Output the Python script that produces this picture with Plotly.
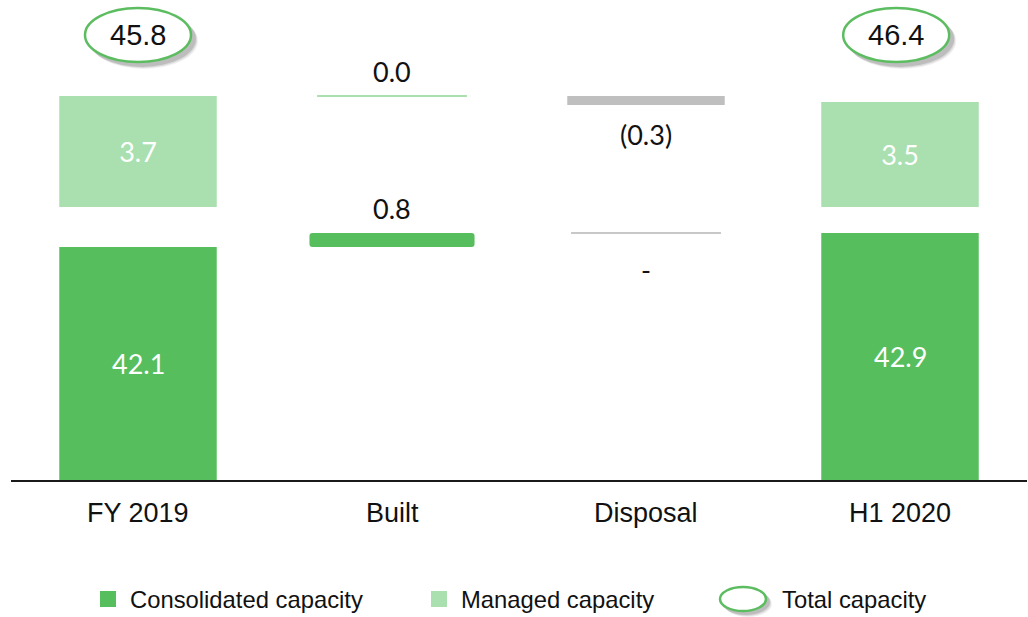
import plotly.graph_objects as go

# ---- data -------------------------------------------------------------
categories = ["FY 2019", "Built", "Disposal", "H1 2020"]
kinds = ["total", "step", "step", "total"]
consolidated = [42.1, 0.8, None, 42.9]      # None = no movement reported
managed = [3.7, 0.0, -0.3, 3.5]
totals = [45.8, None, None, 46.4]
legend_labels = ["Consolidated capacity", "Managed capacity", "Total capacity"]

# ---- style ------------------------------------------------------------
GREEN = "#57BE5E"
LIGHT = "#AADFB0"
GREY_BAR = "#BFBFBF"
GREY_LINE = "#C8C8C8"
RING = "#5CBD60"
NUM_FONT = "Lato, Open Sans, sans-serif"
ARIAL = "Liberation Sans, Arial, sans-serif"
BAR_W = 0.62

W, H = 1028, 617
M_L, M_R, M_T, M_B = 11, 1, 0, 137
PW, PH = W - M_L - M_R, H - M_T - M_B


def paper_x(px):
    return (px - M_L) / PW


def paper_y(py):
    return (M_T + PH - py) / PH


def fmt(v):
    if v is None:
        return "-"
    return f"({abs(v):.1f})" if v < 0 else f"{v:.1f}"


# broken value axis: consolidated segment below, managed segment above
SPLIT = paper_y(207)
Y1_RANGE = [28.786, 44.386]
Y2_RANGE = [0, 6.9]

xs = list(range(len(categories)))

# running levels for the waterfall steps
cons_base, man_base = [], []
c_level, m_level = 0.0, 0.0
for k, c, m in zip(kinds, consolidated, managed):
    if k == "total":
        cons_base.append(0.0)
        man_base.append(0.0)
        c_level, m_level = c, m
    else:
        cons_base.append(c_level)
        man_base.append(m_level)
        c_level += c or 0.0
        m_level += m

fig = go.Figure()

tot_idx = [i for i, k in enumerate(kinds) if k == "total"]
step_idx = [i for i, k in enumerate(kinds) if k == "step"]

# totals: consolidated (lower segment) and managed (upper segment)
fig.add_trace(go.Bar(
    x=[xs[i] for i in tot_idx], y=[consolidated[i] for i in tot_idx],
    width=BAR_W, marker=dict(color=GREEN, line=dict(width=0)),
    yaxis="y", hoverinfo="skip", showlegend=False))
fig.add_trace(go.Bar(
    x=[xs[i] for i in tot_idx], y=[managed[i] for i in tot_idx],
    width=BAR_W, marker=dict(color=LIGHT, line=dict(width=0)),
    text=[fmt(managed[i]) for i in tot_idx], textposition="inside",
    insidetextanchor="middle", constraintext="none", textangle=0,
    textfont=dict(family=NUM_FONT, size=27, color="white"),
    yaxis="y2", hoverinfo="skip", showlegend=False))

annotations = []
half = BAR_W / 2 - 0.015

# consolidated total labels sit in the middle of the visible part of the bar
for i in tot_idx:
    lo = max(Y1_RANGE[0], 0.0)
    annotations.append(dict(x=xs[i], y=(lo + consolidated[i]) / 2, xref="x", yref="y",
                            text=fmt(consolidated[i]), showarrow=False,
                            xanchor="center", yanchor="middle",
                            font=dict(family=NUM_FONT, size=27, color="white")))

for i in step_idx:
    c, m = consolidated[i], managed[i]
    # consolidated movement
    if c:
        fig.add_trace(go.Bar(
            x=[xs[i]], y=[c], base=[cons_base[i]], width=BAR_W + 0.03,
            marker=dict(color=GREEN if c > 0 else GREY_BAR, cornerradius=3, line=dict(width=0)),
            yaxis="y", hoverinfo="skip", showlegend=False))
        annotations.append(dict(x=xs[i], y=max(cons_base[i], cons_base[i] + c), xref="x", yref="y",
                                text=fmt(c), showarrow=False, yanchor="bottom", yshift=6,
                                font=dict(family=NUM_FONT, size=27, color="#111")))
    else:
        fig.add_trace(go.Scatter(
            x=[xs[i] - half, xs[i] + half], y=[cons_base[i]] * 2, mode="lines",
            line=dict(color=GREY_LINE, width=2), yaxis="y", hoverinfo="skip", showlegend=False))
        annotations.append(dict(x=xs[i], y=cons_base[i], xref="x", yref="y",
                                text=fmt(c), showarrow=False, yanchor="top", yshift=-18,
                                font=dict(family=NUM_FONT, size=27, color="#111")))
    # managed movement
    if m:
        fig.add_trace(go.Bar(
            x=[xs[i]], y=[m], base=[man_base[i]], width=BAR_W,
            marker=dict(color=GREY_BAR if m < 0 else LIGHT, line=dict(width=0)),
            yaxis="y2", hoverinfo="skip", showlegend=False))
        if m < 0:
            annotations.append(dict(x=xs[i], y=man_base[i] + m, xref="x", yref="y2",
                                    text=fmt(m), showarrow=False, yanchor="top", yshift=-11,
                                    font=dict(family=NUM_FONT, size=27, color="#111")))
        else:
            annotations.append(dict(x=xs[i], y=man_base[i] + m, xref="x", yref="y2",
                                    text=fmt(m), showarrow=False, yanchor="bottom", yshift=6,
                                    font=dict(family=NUM_FONT, size=27, color="#111")))
    else:
        fig.add_trace(go.Scatter(
            x=[xs[i] - half, xs[i] + half], y=[man_base[i]] * 2, mode="lines",
            line=dict(color=LIGHT, width=2), yaxis="y2", hoverinfo="skip", showlegend=False))
        annotations.append(dict(x=xs[i], y=man_base[i], xref="x", yref="y2",
                                text=fmt(m), showarrow=False, yanchor="bottom", yshift=6,
                                font=dict(family=NUM_FONT, size=27, color="#111")))

# category labels under the baseline
for i, cat in enumerate(categories):
    annotations.append(dict(x=xs[i], y=0, xref="x", yref="paper", text=cat,
                            showarrow=False, yanchor="top", yshift=-16,
                            font=dict(family=ARIAL, size=27, color="#111")))

shapes = []


def ring(xref, x, y, rx, ry, width, shadow=4):
    # soft drop shadow, then the white ellipse with a green outline
    for k, a in ((shadow + 2, 0.06), (shadow + 1, 0.09), (shadow, 0.13)):
        shapes.append(dict(type="circle", xref=xref, yref="paper", xsizemode="pixel",
                           ysizemode="pixel", xanchor=x, yanchor=y,
                           x0=-rx + k - 1, x1=rx + k + 1, y0=-ry - k - 1, y1=ry - k + 1,
                           fillcolor=f"rgba(0,0,0,{a})", line=dict(width=0), layer="above"))
    shapes.append(dict(type="circle", xref=xref, yref="paper", xsizemode="pixel",
                       ysizemode="pixel", xanchor=x, yanchor=y,
                       x0=-rx, x1=rx, y0=-ry, y1=ry, fillcolor="white",
                       line=dict(color=RING, width=width), layer="above"))


# total capacity badges
for i, t in enumerate(totals):
    if t is None:
        continue
    cx = xs[i] - 0.015 if i == len(xs) - 1 else xs[i]
    ring("x", cx, paper_y(35), 53, 27, 2.5)
    annotations.append(dict(x=cx, y=paper_y(35), xref="x", yref="paper", text=f"{t:.1f}",
                            showarrow=False, xanchor="center", yanchor="middle",
                            font=dict(family=ARIAL, size=29, color="#111")))

# legend row
LEG_Y = paper_y(599)
for px, col in ((100, GREEN), (431, LIGHT)):
    shapes.append(dict(type="rect", xref="paper", yref="paper",
                       x0=paper_x(px), x1=paper_x(px + 16),
                       y0=paper_y(607), y1=paper_y(591),
                       fillcolor=col, line=dict(width=0)))
ring("paper", paper_x(743), LEG_Y, 23, 12, 2.5, shadow=3)
for px, label in zip((128, 459, 780), legend_labels):
    annotations.append(dict(x=paper_x(px), y=LEG_Y, xref="paper", yref="paper", text=label,
                            showarrow=False, xanchor="left", yanchor="middle",
                            font=dict(family=ARIAL, size=23.8, color="#111")))

fig.update_layout(
    width=W, height=H,
    margin=dict(l=M_L, r=M_R, t=M_T, b=M_B),
    paper_bgcolor="white", plot_bgcolor="white",
    barmode="overlay",
    xaxis=dict(range=[-0.5, 3.5], showgrid=False, zeroline=False, showticklabels=False,
               showline=True, linecolor="#1a1a1a", linewidth=2, anchor="y", fixedrange=True),
    yaxis=dict(domain=[0, SPLIT], range=Y1_RANGE, visible=False, fixedrange=True),
    yaxis2=dict(domain=[SPLIT, 1], range=Y2_RANGE, visible=False, fixedrange=True, anchor="x"),
    shapes=shapes,
    annotations=annotations,
    showlegend=False,
)

fig.write_html("out.html", config={"displayModeBar": False})
